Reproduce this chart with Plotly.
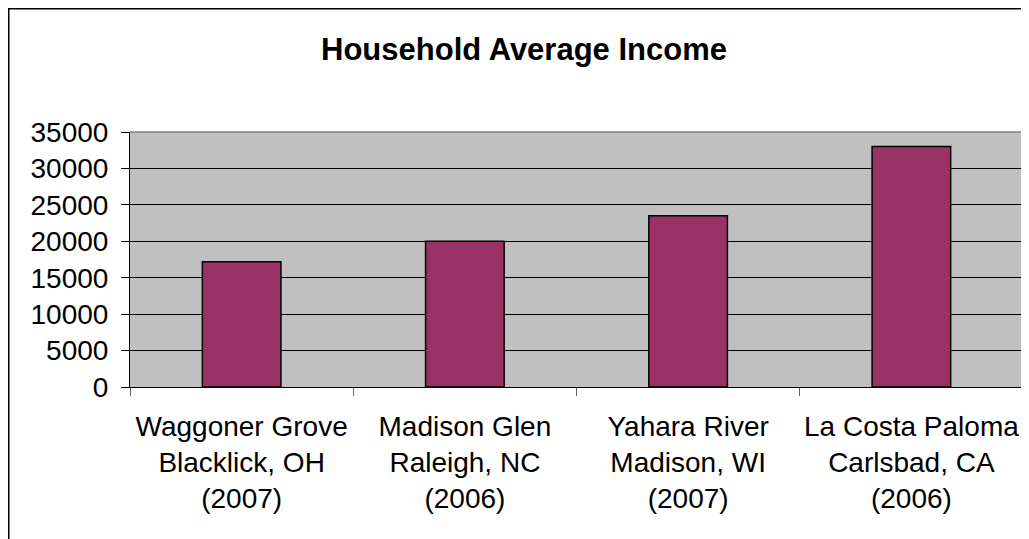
import plotly.graph_objects as go

categories = [
    "Waggoner Grove<br>Blacklick, OH<br>(2007)",
    "Madison Glen<br>Raleigh, NC<br>(2006)",
    "Yahara River<br>Madison, WI<br>(2007)",
    "La Costa Paloma<br>Carlsbad, CA<br>(2006)",
]
income = [17200, 20000, 23500, 33000]
y_ticks = [0, 5000, 10000, 15000, 20000, 25000, 30000, 35000]
title_text = "Household Average Income"

FONT = "Liberation Sans, Arial, sans-serif"

fig = go.Figure()
fig.add_trace(go.Bar(
    x=categories, y=income, width=0.352,
    marker=dict(color="#993366", line=dict(color="black", width=1.5)),
))

# the page body has an 8px margin, so figure coords = screen coords - 8;
# the figure is sized so it ends exactly at the window's right/bottom edge
W, H = 1021, 531
L, R, T, B = 122, 6, 124, 152
pw, ph = W - L - R, H - T - B

fig.update_layout(
    width=W, height=H,
    margin=dict(l=L, r=R, t=T, b=B, pad=0),
    paper_bgcolor="white", plot_bgcolor="#C0C0C0",
    showlegend=False,
    font=dict(family=FONT, color="black"),
    title=dict(text="<b>" + title_text + "</b>", x=516 / W, xanchor="center",
               xref="container", yref="container", y=1 - 41 / H, yanchor="middle",
               font=dict(size=31, family=FONT, color="black")),
)
fig.update_xaxes(
    type="category", tickson="boundaries", ticks="outside", ticklen=8,
    tickcolor="#606060", tickwidth=1,
    showline=True, linecolor="black", linewidth=1,
    showgrid=False, tickfont=dict(size=28, family=FONT, color="black"),
    ticklabelstandoff=14, tickangle=0,
)
fig.update_yaxes(
    range=[0, 35000], tickvals=y_ticks, ticktext=[str(v) for v in y_ticks],
    ticks="outside", ticklen=8, tickcolor="black", tickwidth=1,
    showline=True, linecolor="black", linewidth=1,
    showgrid=True, gridcolor="black", gridwidth=1, zeroline=False,
    tickfont=dict(size=28, family=FONT, color="black"),
    ticklabelstandoff=7,
)
# plot-area top/right border (gray)
fig.add_shape(type="line", xref="x domain", yref="y domain", x0=0, x1=1, y0=1, y1=1,
              line=dict(color="#808080", width=1.5), layer="above")
fig.add_shape(type="line", xref="x domain", yref="y domain", x0=1, x1=1, y0=0, y1=1,
              line=dict(color="#808080", width=1.5), layer="above")
# outer chart border (starts at the very left/top edge of the figure)
fig.add_shape(type="rect", xref="paper", yref="paper",
              x0=(0.5 - L) / pw, x1=(W + 5 - L) / pw,
              y0=(T + ph - (H + 5)) / ph, y1=(T + ph - 0.5) / ph,
              line=dict(color="black", width=2), fillcolor="rgba(0,0,0,0)", layer="below")

fig.write_html("out.html")
